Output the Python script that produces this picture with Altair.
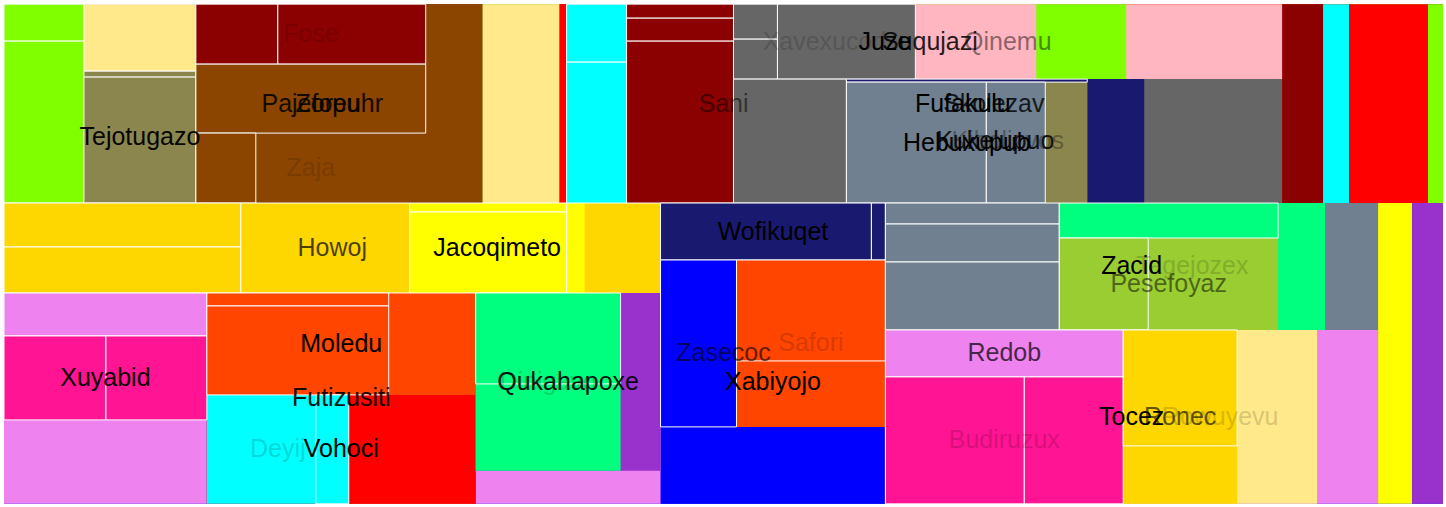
import altair as alt
import pandas as pd

# ---- hierarchy (id, parent, own value) ----
node_ids = [
    "root",
    "sani", "s1", "s1a", "s1b", "s2", "s2a", "tejo", "tejoa", "tejob",
    "zore", "paje", "fose", "fosea", "foseb", "pajel", "zaja", "zajaa",
    "fufa", "s4", "skol", "s5", "s6", "s6a", "s6b", "s7", "s7a", "s7b", "s7c",
    "s8", "qine", "suqu", "juze", "xave", "xv", "xva", "xvb", "xvc",
    "kibo", "kiboa", "kuke", "kv", "kva", "hebu", "hebua", "hebub", "hebuc",
    "s9", "s10",
    "zase", "z1", "howo", "hv", "hva", "hvb", "howb", "jaco", "jv", "jva", "jvb",
    "z1b", "xvio", "xvioa", "xuya", "xuyaa", "xuyab",
    "futi", "mole", "mv", "mva", "mvb", "voho", "deyi", "dsp", "deyia",
    "qvio", "quka", "dini", "dinia",
    "z2", "wofi", "wofia", "wofib", "xabi", "xbv", "xbva", "safo", "safoa",
    "z3", "zaci", "zs", "zsa", "zsb", "zsc", "tage", "tv", "tva", "pese", "pesea",
    "toce", "tv2", "redo", "budi", "budia", "budib", "rowu", "rone", "ronea",
    "z4", "z5",
]
node_parents = [
    None,
    "root", "sani", "s1", "s1", "sani", "s2", "s2", "tejo", "tejo",
    "sani", "zore", "paje", "fose", "fose", "paje", "paje", "zaja",
    "sani", "fufa", "fufa", "skol", "skol", "s6", "s6", "skol", "s7", "s7", "s7",
    "skol", "s8", "qine", "suqu", "juze", "xave", "xv", "xv", "xave",
    "s8", "kibo", "kibo", "kuke", "kv", "kv", "hebu", "hebu", "hebu",
    "skol", "skol",
    "root", "zase", "z1", "howo", "hv", "hv", "howo", "howo", "jaco", "jv", "jv",
    "z1", "z1b", "xvio", "xvio", "xuya", "xuya",
    "z1b", "futi", "mole", "mv", "mv", "futi", "voho", "deyi", "deyi",
    "z1b", "qvio", "quka", "dini",
    "zase", "z2", "wofi", "wofi", "z2", "xabi", "xbv", "xbv", "safo",
    "zase", "z3", "zaci", "zs", "zs", "zs", "zaci", "tage", "tv", "tv", "pese",
    "z3", "toce", "tv2", "tv2", "budi", "budi", "toce", "rowu", "rone",
    "zase", "zase",
]
node_values = [
    0,
    0, 0, 29.6, 129.6, 0, 75.04, 0, 6.72, 141.12,
    113.43, 0, 0, 49.2, 88.8, 158.7, 119, 42,
    29.85, 153.23, 157.21, 13.93, 0, 34.8, 84.6, 0, 14.98, 24.61, 173.34,
    0, 117, 67.5, 90.75, 0, 0, 15.4, 17.6, 103.5,
    171.12, 140.12, 70.68, 0, 7.23, 0, 169.4, 71.39, 50.82,
    81.59, 51.74,
    0, 0, 68.4, 0, 104.28, 109.02, 152.1, 16.2, 0, 14.13, 127.17,
    0, 170.52, 87.29, 0, 85.68, 84.84,
    0, 88.74, 0, 23.66, 161.98, 138.43, 0, 118.81, 35.97,
    61.05, 71.2, 126.15, 131.95,
    0, 0, 120.27, 7.98, 173.25, 0, 126.92, 98.34, 150.49,
    0, 67.31, 0, 36.54, 66.12, 118.32, 59.69, 0, 76.65, 119.6, 81.88,
    106.14, 0, 111.86, 0, 176.53, 125.73, 139.2, 66.12, 132.24,
    102.34, 93.31,
]

node_splits = {
    "root": "v", "sani": "h", "s1": "v", "s2": "v", "tejo": "v", "zore": "h",
    "paje": "v", "fose": "h", "zaja": "h", "fufa": "h", "skol": "h", "s6": "v",
    "s7": "v", "s8": "v", "qine": "h", "suqu": "h", "juze": "h", "xave": "h",
    "xv": "v", "kibo": "h", "kuke": "h", "kv": "v", "hebu": "h",
    "zase": "h", "z1": "v", "howo": "h", "hv": "v", "jaco": "h", "jv": "v",
    "z1b": "h", "xvio": "v", "xuya": "h", "futi": "v", "mole": "h", "mv": "v",
    "voho": "h", "deyi": "h", "qvio": "v", "quka": "h", "dini": "v",
    "z2": "v", "wofi": "h", "xabi": "v", "xbv": "h", "safo": "v",
    "z3": "v", "zaci": "h", "zs": "v", "tage": "h", "tv": "v", "pese": "h",
    "toce": "h", "tv2": "v", "budi": "h", "rowu": "h", "rone": "v",
}

node_colors = {
    "sani": "#8b0000", "s1": "#7fff00", "s2a": "#ffe98b", "tejo": "#8b864e",
    "zore": "#8b4500", "paje": "#8b4500", "fose": "#8b0000", "zaja": "#8b4500",
    "fufa": "#7fff00", "s4": "#ffe98b", "skol": "#ff0000", "s5": "#ff0000",
    "s6": "#00ffff", "s7": "#8b0000", "qine": "#ffb6c1", "suqu": "#7fff00",
    "juze": "#ffb6c1", "xave": "#666666", "kibo": "#666666", "kuke": "#191970",
    "hebu": "#708090", "hebuc": "#8b864e", "s9": "#8b0000", "s10": "#00ffff",
    "zase": "#0000ff", "howo": "#ffd700", "jaco": "#ffff00", "xvio": "#ee82ee",
    "xuya": "#ff1493", "futi": "#ff4500", "mole": "#ff4500", "voho": "#ff0000",
    "deyi": "#00ffff", "qvio": "#ee82ee", "quka": "#9932cc", "dini": "#00ff7f",
    "wofi": "#191970", "xabi": "#0000ff", "safo": "#ff4500", "zaci": "#708090",
    "zs": "#708090", "tage": "#00ff7f", "pese": "#9acd32", "toce": "#ee82ee",
    "budi": "#ff1493", "rowu": "#ffe98b", "rone": "#ffd700", "z4": "#ffff00",
    "z5": "#9932cc",
}

leaf_ids = [
    "s1a", "s1b", "s2a", "tejoa", "tejob", "fosea", "foseb", "pajel", "zajaa",
    "s6a", "s6b", "s7a", "s7b", "s7c", "xva", "xvb", "xvc", "kiboa", "kva",
    "hebua", "hebub", "hva", "hvb", "howb", "jva", "jvb", "xvioa", "xuyaa",
    "xuyab", "mva", "mvb", "deyia", "dinia", "wofia", "wofib", "xbva", "safoa",
    "zsa", "zsb", "zsc", "tva", "pesea", "redo", "budia", "budib", "ronea",
]

label_names = {
    "sani": "Sani", "tejo": "Tejotugazo", "zore": "Zoreuhr", "paje": "Pajefopu",
    "fose": "Fose", "zaja": "Zaja", "fufa": "Fufakulu", "skol": "Skolezav",
    "qine": "Qinemu", "suqu": "Suqujazi", "juze": "Juze", "xave": "Xavexucod",
    "kibo": "Kibolizvos", "kuke": "Kukelupuo", "hebu": "Hebuxupub",
    "zase": "Zasecoc", "howo": "Howoj", "jaco": "Jacoqimeto", "xuya": "Xuyabid",
    "futi": "Futizusiti", "mole": "Moledu", "voho": "Vohoci", "deyi": "Deyij",
    "quka": "Qukahapoxe", "dini": "Dinigavo", "wofi": "Wofikuqet",
    "xabi": "Xabiyojo", "safo": "Safori", "zaci": "Zacid", "tage": "Tagejozex",
    "pese": "Pesefoyaz", "toce": "Tocez", "redo": "Redob", "budi": "Budiruzux",
    "rowu": "Rowuyevu", "rone": "Ronec",
}
label_opacity = {
    "sani": 0.5, "tejo": 0.95, "zore": 0.85, "paje": 0.85, "fose": 0.12,
    "zaja": 0.12, "fufa": 1.0, "skol": 0.8, "qine": 0.45, "suqu": 0.85,
    "juze": 1.0, "xave": 0.15, "kibo": 0.3, "kuke": 0.85, "hebu": 1.0,
    "zase": 0.6, "howo": 0.7, "jaco": 1.0, "xuya": 0.95, "futi": 0.9,
    "mole": 1.0, "voho": 1.0, "deyi": 0.15, "quka": 0.9, "dini": 0.15,
    "wofi": 1.0, "xabi": 1.0, "safo": 0.15, "zaci": 1.0, "tage": 0.15,
    "pese": 0.5, "toce": 1.0, "redo": 0.7, "budi": 0.15, "rowu": 0.15,
    "rone": 0.6,
}

W, H = 1440, 500

# ---- slice/dice treemap layout (own value leaves unfilled space at the end) ----
children = {i: [] for i in node_ids}
parent_of = dict(zip(node_ids, node_parents))
own = dict(zip(node_ids, node_values))
for i, p in zip(node_ids, node_parents):
    if p is not None:
        children[p].append(i)

total = {}


def tot(n):
    if n not in total:
        total[n] = own[n] + sum(tot(c) for c in children[n])
    return total[n]


rects = {}
depth = {}


def layout(n, x0, y0, x1, y1, d):
    rects[n] = (x0, y0, x1, y1)
    depth[n] = d
    t = tot(n)
    if not children[n] or t == 0:
        return
    if node_splits.get(n, "h") == "h":
        x = x0
        for c in children[n]:
            w = (x1 - x0) * tot(c) / t
            layout(c, x, y0, x + w, y1, d + 1)
            x += w
    else:
        y = y0
        for c in children[n]:
            h = (y1 - y0) * tot(c) / t
            layout(c, x0, y, x1, y + h, d + 1)
            y += h


layout("root", 0, 0, W, H, 0)


def fill_of(n):
    while n is not None:
        if n in node_colors:
            return node_colors[n]
        n = parent_of[n]
    return "transparent"


fill_rows, leaf_rows, text_rows = [], [], []
for n in node_ids:
    x0, y0, x1, y1 = rects[n]
    if n in node_colors and n not in leaf_ids:
        fill_rows.append(dict(x0=x0, x1=x1, y0=y0, y1=y1, c=node_colors[n], d=depth[n]))
    if n in leaf_ids:
        leaf_rows.append(dict(x0=x0, x1=x1, y0=y0, y1=y1, c=fill_of(n), d=depth[n]))
    if n in label_names:
        text_rows.append(dict(cx=(x0 + x1) / 2, cy=(y0 + y1) / 2,
                              name=label_names[n], op=label_opacity[n], d=depth[n]))

fill_df = pd.DataFrame(fill_rows).sort_values("d", kind="stable")
leaf_df = pd.DataFrame(leaf_rows)
text_df = pd.DataFrame(text_rows).sort_values("d", kind="stable")

xs = alt.Scale(domain=[0, W], nice=False, zero=False)
ys = alt.Scale(domain=[0, H], nice=False, zero=False, reverse=True)

groups = alt.Chart(fill_df).mark_rect(strokeWidth=0).encode(
    x=alt.X("x0:Q", scale=xs, axis=None), x2="x1:Q",
    y=alt.Y("y0:Q", scale=ys, axis=None), y2="y1:Q",
    fill=alt.Fill("c:N", scale=None),
)
leaves = alt.Chart(leaf_df).mark_rect(stroke="#ffffff", strokeWidth=1).encode(
    x=alt.X("x0:Q", scale=xs, axis=None), x2="x1:Q",
    y=alt.Y("y0:Q", scale=ys, axis=None), y2="y1:Q",
    fill=alt.Fill("c:N", scale=None),
)
labels = alt.Chart(text_df).mark_text(
    font="Liberation Sans", fontSize=25, align="center", baseline="middle", color="#000000"
).encode(
    x=alt.X("cx:Q", scale=xs, axis=None),
    y=alt.Y("cy:Q", scale=ys, axis=None),
    text="name:N",
    opacity=alt.Opacity("op:Q", scale=None),
)

chart = alt.layer(groups, leaves, labels).properties(
    width=W, height=H,
    padding={"left": 3, "top": 3, "right": 3, "bottom": 4},
).configure_view(stroke=None)

chart.save("out.html", embed_options={"renderer": "svg", "actions": False})
